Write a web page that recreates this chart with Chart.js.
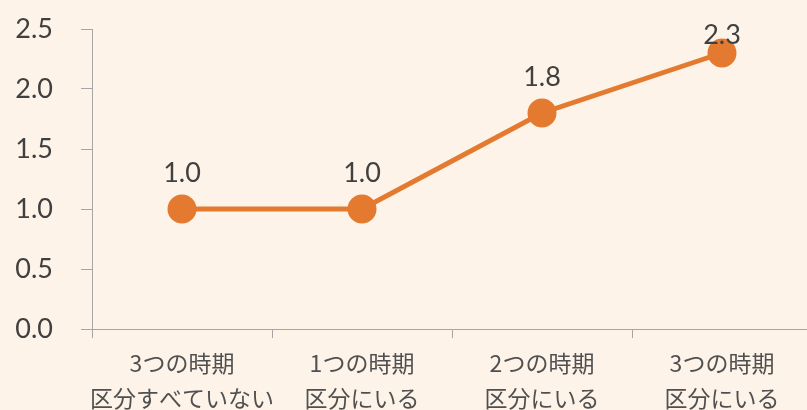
<!DOCTYPE html>
<html><head><meta charset="utf-8">
<script src="https://cdn.jsdelivr.net/npm/chart.js@4/dist/chart.umd.min.js"></script>
<style>html,body{margin:0;padding:0;background:#fdf3e8;overflow:hidden;}#wrap{width:807px;height:410px;overflow:hidden;}</style>
</head><body><div id="wrap"><canvas id="c" width="812" height="410"></canvas></div>
<script>
const categories = [["3つの時期","区分すべていない"],["1つの時期","区分にいる"],["2つの時期","区分にいる"],["3つの時期","区分にいる"]];
const values = [1.0, 1.0, 1.8, 2.3];
const yTicks = [0, 0.5, 1.0, 1.5, 2.0, 2.5];

const lineColor = '#e47a30';
const textColor = '#404040';
const axisColor = '#a6a6a6';

const bgPlugin = {
  id: 'bg',
  beforeDraw(chart) {
    const ctx = chart.ctx;
    ctx.save(); ctx.fillStyle = '#fdf3e8'; ctx.fillRect(0,0,chart.width,chart.height); ctx.restore();
  }
};
const labelPlugin = {
  id: 'vlabels',
  afterDatasetsDraw(chart) {
    const ctx = chart.ctx;
    const meta = chart.getDatasetMeta(0);
    ctx.save();
    ctx.font = '27px Lato';
    ctx.fillStyle = textColor;
    ctx.textAlign = 'center';
    ctx.textBaseline = 'middle';
    meta.data.forEach((pt, i) => {
      const y = Math.max(pt.y - 36, 35);
      ctx.fillText(values[i].toFixed(1), pt.x, y);
    });
    ctx.restore();
  }
};

new Chart(document.getElementById('c'), {
  type: 'line',
  data: {
    labels: categories,
    datasets: [{
      data: values,
      borderColor: lineColor,
      backgroundColor: lineColor,
      borderWidth: 5,
      pointRadius: 12,
      pointHoverRadius: 12,
      pointBackgroundColor: lineColor,
      pointBorderColor: lineColor,
      tension: 0,
      clip: false
    }]
  },
  options: {
    responsive: false,
    animation: false,
    events: [],
    layout: { autoPadding: false, padding: { top: 29, right: 0, left: 0, bottom: 0 } },
    plugins: { legend: { display: false }, tooltip: { enabled: false } },
    scales: {
      x: {
        offset: true,
        grid: { display: true, drawOnChartArea: false, drawTicks: true, tickLength: 9, color: axisColor, offset: true },
        border: { color: axisColor, width: 1 },
        ticks: { color: '#505050', font: { family: 'Noto Sans CJK JP', size: 23, lineHeight: 1.52 }, padding: 8, maxRotation: 0, autoSkip: false },
        afterFit(s) { s.height = 81; s.paddingLeft = 0; s.paddingRight = 0; }
      },
      y: {
        min: 0, max: 2.5,
        afterBuildTicks(s) { s.ticks = yTicks.map(v => ({ value: v })); },
        grid: { display: true, drawOnChartArea: false, drawTicks: true, tickLength: 11, color: axisColor },
        border: { color: axisColor, width: 1 },
        ticks: { color: textColor, font: { family: 'Lato', size: 27 }, padding: 28, callback: v => Number(v).toFixed(1) },
        afterFit(s) { s.width = 92; s.paddingTop = 0; s.paddingBottom = 0; }
      }
    }
  },
  plugins: [bgPlugin, labelPlugin]
});
</script></body></html>
